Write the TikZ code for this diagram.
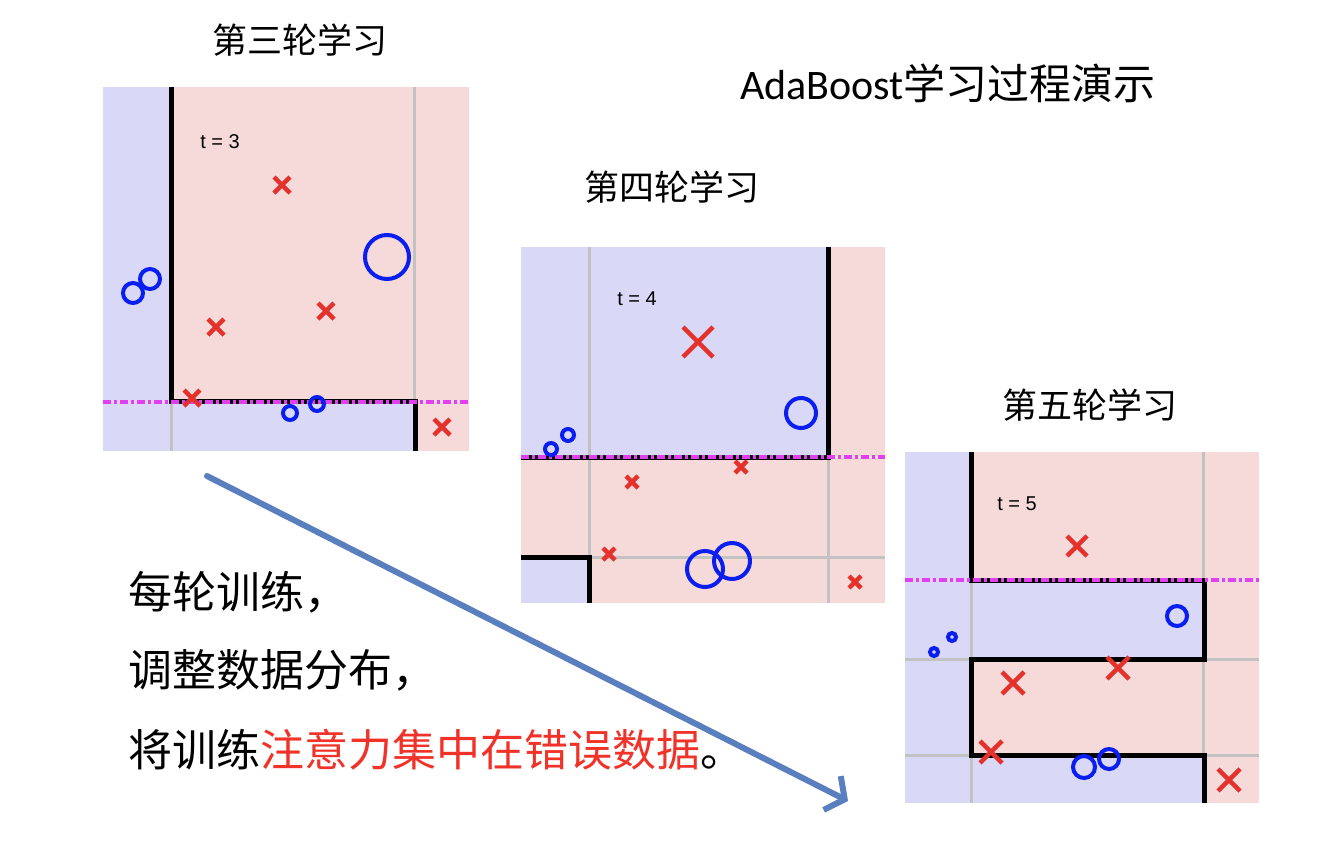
\documentclass[tikz,border=0pt]{standalone}
\usepackage{fontspec}
\setsansfont{Liberation Sans}
\newfontfamily\cjk{Noto Sans CJK SC}
\newfontfamily\calib{Carlito}
\usetikzlibrary{arrows.meta}
\definecolor{blueregion}{HTML}{D9D9F7}
\definecolor{pinkregion}{HTML}{F6D9D9}
\definecolor{markblue}{HTML}{0A1EF0}
\definecolor{markred}{HTML}{E5312B}
\definecolor{stumpmag}{HTML}{E040F0}
\definecolor{gridgray}{HTML}{C2C2C2}
\definecolor{arrowblue}{HTML}{5A7FBF}
\definecolor{textred}{HTML}{F03228}

\begin{document}
\begin{tikzpicture}[x=1pt, y=-1pt,
  bluereg/.style={fill=blueregion},
  pinkreg/.style={fill=pinkregion},
  gridline/.style={draw=gridgray, line width=3pt},
  boundary/.style={draw=black, line width=5pt},
  stumpline/.style={draw=stumpmag, line width=3.5pt, dash pattern=on 8pt off 3pt on 3pt off 3pt},
  crossmark/.style={draw=markred, line width=4.5pt},
  circmark/.style={draw=markblue, line width=4pt},
  roundtitle/.style={font={\cjk\fontsize{35}{40}\selectfont}},
  tlabel/.style={font={\sffamily\fontsize{20}{24}\selectfont}},
  bodytext/.style={anchor=west, font={\cjk\fontsize{44}{50}\selectfont}},
  trend/.style={draw=arrowblue, line width=6pt, line cap=round,
                -{Straight Barb[length=14pt, width=38pt]}},
]
\useasboundingbox (0,0) rectangle (1329,857);

% round 3
\fill[bluereg] (103,87) rectangle (469,451);
\fill[pinkreg] (171,87) rectangle (469,401);
\fill[pinkreg] (415,401) rectangle (469,451);
\draw[gridline] (171,87) -- (171,451) (414,87) -- (414,451);
\draw[boundary] (171,87) -- (171,401) -- (415,401) -- (415,451);
\draw[stumpline] (103,402) -- (469,402);
\node[tlabel] (t3) at (220,142) {t = 3};
\foreach \px/\py/\h in {282/185/8, 216/327/8, 326/311/8, 192/398/8, 442/427/8}
  \draw[crossmark] (\px-\h,\py-\h) -- (\px+\h,\py+\h) (\px-\h,\py+\h) -- (\px+\h,\py-\h);
\foreach \px/\py/\r in {387/257/22, 133/293/10, 150/279/10, 290/413/7, 317/404/7}
  \draw[circmark] (\px,\py) circle[radius=\r pt];
\node[roundtitle] (round3) at (300,40) {第三轮学习};

% round 4
\fill[pinkreg] (521,247) rectangle (885,603);
\fill[bluereg] (521,247) rectangle (828,457);
\fill[bluereg] (521,557) rectangle (589,603);
\draw[gridline] (589,247) -- (589,603) (828,247) -- (828,603) (521,557) -- (885,557);
\draw[boundary] (828,247) -- (828,457) -- (521,457);
\draw[boundary] (521,557) -- (589,557) -- (589,603);
\draw[stumpline] (521,457) -- (885,457);
\node[tlabel] (t4) at (637,299) {t = 4};
\foreach \px/\py/\h in {698/342/15, 632/482/6, 741/467/6, 609/554/6, 855/582/6}
  \draw[crossmark] (\px-\h,\py-\h) -- (\px+\h,\py+\h) (\px-\h,\py+\h) -- (\px+\h,\py-\h);
\foreach \px/\py/\r in {801/413/15, 551/449/6, 568/435/6, 705/569/18, 732/561/18}
  \draw[circmark] (\px,\py) circle[radius=\r pt];
\node[roundtitle] (round4) at (672,187) {第四轮学习};

% round 5
\fill[pinkreg] (905,452) rectangle (1259,803);
\fill[bluereg] (905,452) rectangle (971,803);
\fill[bluereg] (971,580) rectangle (1204,659);
\fill[bluereg] (971,755) rectangle (1204,803);
\draw[gridline] (971,452) -- (971,803) (1203,452) -- (1203,803)
  (905,659) -- (1259,659) (905,755) -- (1259,755);
\draw[boundary] (971,452) -- (971,580) -- (1204,580) -- (1204,659) -- (971,659)
  -- (971,755) -- (1204,755) -- (1204,803);
\draw[stumpline] (905,580) -- (1259,580);
\node[tlabel] (t5) at (1017,504) {t = 5};
\foreach \px/\py/\h in {1077/546/10, 1013/683/11, 1118/668/11, 991/752/11, 1229/780/11}
  \draw[crossmark] (\px-\h,\py-\h) -- (\px+\h,\py+\h) (\px-\h,\py+\h) -- (\px+\h,\py-\h);
\foreach \px/\py/\r in {1177/616/10, 934/652/4, 952/637/4, 1084/767/11, 1109/759/10}
  \draw[circmark] (\px,\py) circle[radius=\r pt];
\node[roundtitle] (round5) at (1090,405) {第五轮学习};

% title and notes
\node[font={\fontsize{42}{48}\selectfont}] (title) at (948,83)
  {\calib AdaBoost\cjk 学习过程演示};
\node[bodytext] (line1) at (125,592) {每轮训练，};
\node[bodytext] (line2) at (125,670) {调整数据分布，};
\node[bodytext] (line3) at (125,750) {将训练\textcolor{textred}{注意力集中在错误数据}。};

\coordinate (arrowstart) at (207,476);
\coordinate (arrowend) at (848,801);
\draw[trend] (arrowstart) -- (arrowend);
\end{tikzpicture}
\end{document}
